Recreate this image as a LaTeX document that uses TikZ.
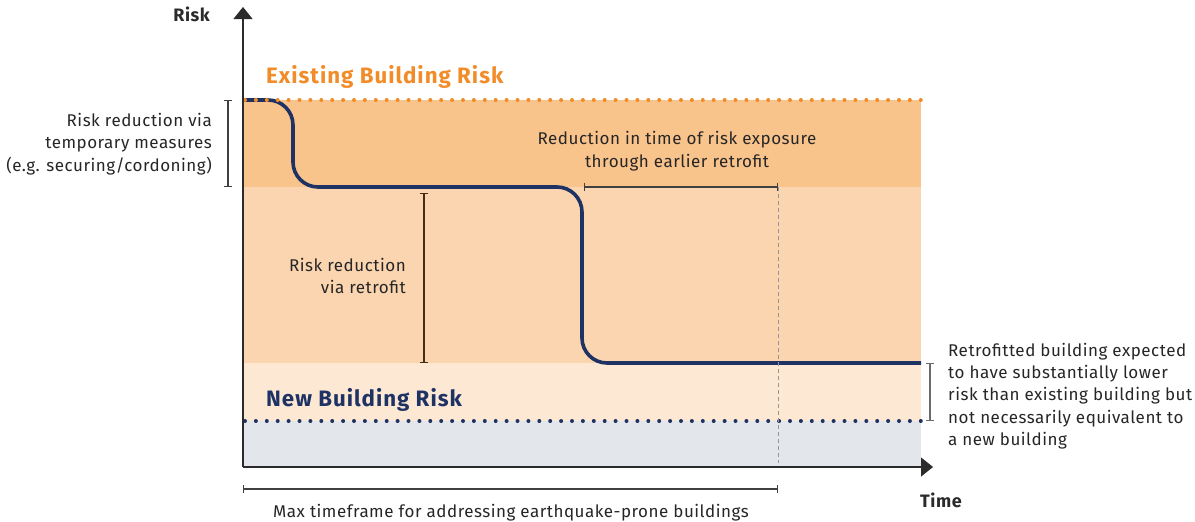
\documentclass[tikz,border=0pt]{standalone}
\usepackage{fontspec}
\setmainfont{Fira Sans}[LetterSpace=3]
\usepackage{tikz}
\usetikzlibrary{arrows.meta}

\definecolor{bandtop}{HTML}{F9C38C}
\definecolor{bandmid}{HTML}{FAD5B0}
\definecolor{bandlow}{HTML}{FDE8D4}
\definecolor{bandnew}{HTML}{E3E7EC}
\definecolor{exorange}{HTML}{F28C28}
\definecolor{navy}{HTML}{1E3264}
\definecolor{axisgrey}{HTML}{2B2B2B}

\tikzset{
  lbl/.style={font=\fontsize{17}{22.4}\selectfont, text=black!85, inner sep=0pt},
  head/.style={font=\fontsize{22.3}{24}\selectfont\bfseries\addfontfeature{LetterSpace=4.5}, inner sep=0pt},
  axlbl/.style={font=\fontsize{18}{20}\selectfont\bfseries, text=axisgrey, inner sep=0pt},
  bracket/.style={draw=axisgrey!90, line width=1.1pt, {Bar[width=8pt]}-{Bar[width=8pt]}},
  riskdots/.style={line width=4pt, line cap=round, dash pattern=on 0pt off 10.9pt},
  axisline/.style={draw=axisgrey, line width=1.3pt, -{Triangle[width=19pt,length=12pt]}}
}

\begin{document}
\begin{tikzpicture}[x=1pt,y=-1pt]
    \useasboundingbox (0,0) rectangle (1195,522);
    % bands
    \fill[bandtop] (243,100) rectangle (921,187);
    \fill[bandmid] (243,187) rectangle (921,363);
    \fill[bandlow] (243,363) rectangle (921,421);
    \fill[bandnew] (243,421) rectangle (921,467);
    % named points
    \coordinate (o) at (243,467);
    \coordinate (ytop) at (243,7);
    \coordinate (xend) at (933,467);
    \coordinate (deadline) at (778,187);
    \coordinate (deadlinebot) at (778,463);
    % risk curve
    \draw[navy, line width=3.6pt, rounded corners=25pt]
      (243,100) -- (293,100) -- (293,187) -- (582,187) -- (582,363) -- (921,363);
    % risk levels
    \draw[riskdots, exorange] (245,100) -- (921,100);
    \draw[riskdots, navy] (245,421) -- (921,421);
    \draw[axisgrey!50, line width=1pt, dash pattern=on 4pt off 3pt] (deadline) -- (deadlinebot);
    % axes
    \draw[axisline] (o) -- (ytop);
    \draw[axisline] (o) -- (xend);
    \node[axlbl, anchor=east] (risk) at (210,14) {Risk};
    \node[axlbl, anchor=west] (time) at (920,500) {Time};
    \node[head, text=exorange, anchor=west] (exist) at (266,77) {Existing Building Risk};
    \node[head, text=navy, anchor=west] (new) at (266,400) {New Building Risk};
    % brackets
    \draw[bracket] (228,100) coordinate (t1) -- (228,187) coordinate (t2);
    \node[lbl, anchor=east, align=right] (temp) at (212,144)
      {Risk reduction via\\temporary measures\\(e.g. securing/cordoning)};
    \draw[bracket, draw=black!65!brown] (424,193) coordinate (r1) -- (424,363) coordinate (r2);
    \node[lbl, anchor=east, align=right] (retro) at (406,276)
      {Risk reduction\\via retrofit};
    \draw[bracket] (584,187) coordinate (e1) -- (deadline);
    \node[lbl, align=center] (earlier) at (677,151)
      {Reduction in time of risk exposure\\through earlier retrofit};
    \draw[bracket, draw=axisgrey!70] (930,363) coordinate (n1) -- (930,421) coordinate (n2);
    \node[lbl, anchor=west, align=left] (expect) at (948,396)
      {Retrofitted building expected\\to have substantially lower\\risk than existing building but\\not necessarily equivalent to\\a new building};
    \draw[bracket] (243,489) coordinate (m1) -- (778,489) coordinate (m2);
    \node[lbl] (maxtime) at (511,513) {Max timeframe for addressing earthquake-prone buildings};
\end{tikzpicture}
\end{document}
